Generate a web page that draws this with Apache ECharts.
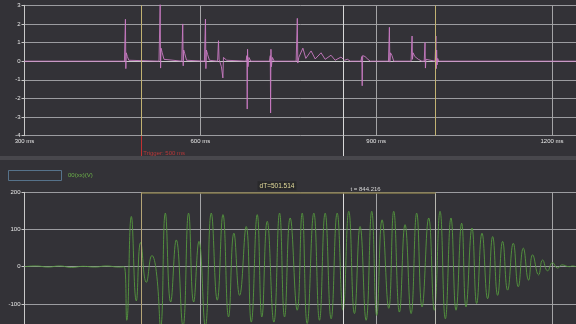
<!DOCTYPE html>
<html><head><meta charset="utf-8">
<script src="https://cdn.jsdelivr.net/npm/echarts@6/dist/echarts.min.js"></script>
<style>html,body{margin:0;padding:0;background:#333237}#c{width:576px;height:324px}</style>
</head><body><div id="c"></div>
<script>
// ---- data ----
const xTicksMs = [300, 600, 900, 1200];
const xRangeMs = [300, 1241];
const topYRange = [-4, 3];
const bottomYRange = [-200, 200];
const cursorMs = [500, 1001.514, 844.216]; // trigger, second cursor, probe
const legendName = ['00(xx)(V)'];

// pink trace (top panel), [ms, value]
const pinkTrace = [
  [300,0],
  [470.5,0],[472.2,2.25],[472.9,-0.4],[473.6,0.45],[475.5,0.25],[478,0.05],[480,0],
  [529.5,0],[531.5,3.1],[532.2,-0.37],[533,0.7],[535,0.45],[538,0.1],[540,0],
  [568.3,0],[570,2.0],[570.8,-0.25],[571.6,0.6],[573.5,0.4],[576.5,0.05],[578,0],
  [607,0],[608.8,2.26],[609.5,-0.4],[610.3,0.6],[612.5,0.35],[615.5,0.05],[618,0],
  [629.5,0],[631,1.1],[632,0.1],[636,-0.3],[638.5,-0.9],[639.5,0.2],[642,0.3],[645,0.05],[648,0],
  [678,0],[679.5,0.3],[680,-2.57],[680.6,0.64],[681.3,-0.3],[683,0.2],[686,0],
  [718,0],[719.4,0.3],[719.9,-2.78],[720.5,0.64],[721.2,-0.3],[723,0.2],[726,0],
  [763.5,0],[765.5,2.3],[766.3,-0.1],[768,0.2],[775,0.7],[780,0.15],[789,0.55],[796,0.12],
  [806,0.45],[813,0.1],[823,0.32],[830,0.05],[840,0.22],[846,0.05],[851,0.1],[856,0],
  [874,0],[875.5,0.25],[876.2,-1.32],[877,0.3],[881,0.25],[886,0.1],[890,0],
  [921,0],[922.6,1.82],[923.3,-0.05],[924.5,0.45],[927,0.3],[930,0],
  [959.6,0],[961.3,1.35],[962,0.1],[963,0.45],[966,0.25],[972,0.1],[978,0],
  [982,0],[983.4,1.0],[984.1,-0.37],[985,0.1],[987,0],
  [1000.5,0],[1002,1.35],[1002.6,-0.4],[1003.2,0.6],[1004,-0.2],[1005,0.15],[1007,0],
  [1241,0]
];

// green trace (bottom panel), [ms, value] at read-off extremes
const greenTrace = [
  [300,0],[320,2],[340,-1],[360,2],[380,-2],[400,1],[420,-1],[440,2],[460,-1],[470,0],
  [474.5,-144],[482.3,135],[490.8,-92],[498.2,65],[507.9,-42],[517.5,30],[524.9,-13],[532.3,-162],
  [540.3,144],[549.4,-95],[559.0,72],[570.4,-160],[580.0,144],[588.6,-95],[597.7,68],[608.5,-160],
  [618.7,144],[628.9,-90],[638.6,140],[648.2,-135],[657.3,90],[667,-77],[678.3,108],[686.9,-149],
  [697.1,140],[705.0,-135],[714.1,122],[725.5,-149],[735.2,144],[743.7,-135],[753.3,131],[765.3,-117],
  [773.8,144],[782.3,-153],[793.7,144],[803.3,-144],[813.0,144],[823.2,-140],[833.5,144],[843.5,-117],
  [853.3,149],[863.0,-126],[872.6,108],[882.9,-144],[892.5,149],[901.0,-131],[910.1,126],[921.5,-112],
  [930.0,149],[939.7,-122],[949.3,113],[959.6,-126],[969.2,144],[978.3,-108],[989.7,131],[999.3,-117],
  [1009.0,149],[1018.1,-140],[1027.7,131],[1036.3,-117],[1045.9,117],[1053.3,-108],[1063.5,104],[1071.5,-99],
  [1080.6,90],[1090.2,-86],[1098.8,81],[1107.3,-77],[1115.8,68],[1124.3,-63],[1134.0,63],[1142.5,-54],
  [1151.1,50],[1160.1,-36],[1167.0,32],[1177.2,-22],[1184.0,18],[1192.5,-11],[1201.0,11],[1209.6,-4],
  [1217.0,5],[1229.4,0],[1235,2],[1241,0]
];

// ---- chart ----
const FONT = 'Liberation Sans';
const chart = echarts.init(document.getElementById('c'), null, {renderer:'canvas'});
const gridLine = {lineStyle:{color:'#9c9ca0', width:1}};
const axisCol = '#c8c8c8';
const vline = (ms, color) => ({xAxis: ms, lineStyle:{color, width:1, type:'solid'}});
const mlBase = {silent:true, symbol:['none','none'], label:{show:false}, animation:false,
  lineStyle:{type:'solid', width:1}};

const option = {
  backgroundColor:'#333237',
  animation:false,
  grid:[
    {left:24.5, right:0, top:5.3, height:130.4, outerBoundsMode:'none', containLabel:false},
    {left:24.5, right:0, top:136, height:20, outerBoundsMode:'none', containLabel:false},
    {left:24.5, right:0, top:192.3, height:148.8, outerBoundsMode:'none', containLabel:false}
  ],
  xAxis:[
    {gridIndex:0, type:'value', min:xRangeMs[0], max:xRangeMs[1], interval:300,
     axisLine:{show:true, lineStyle:{color:axisCol}}, axisTick:{show:false},
     axisLabel:{color:'#e6e6e6', fontSize:6, fontFamily:FONT, margin:3,
       formatter:v => xTicksMs.includes(v) ? v + ' ms' : ''},
     splitLine:{show:true, lineStyle:{color:'#a4a4a6', width:1}}},
    {gridIndex:1, type:'value', min:xRangeMs[0], max:xRangeMs[1], show:false},
    {gridIndex:2, type:'value', min:xRangeMs[0], max:xRangeMs[1], interval:300,
     axisLine:{show:false}, axisTick:{show:false}, axisLabel:{show:false},
     splitLine:{show:true, lineStyle:{color:'#a4a4a6', width:1}}}
  ],
  yAxis:[
    {gridIndex:0, type:'value', min:topYRange[0], max:topYRange[1], interval:1,
     axisLine:{show:true, lineStyle:{color:axisCol}},
     axisTick:{show:true, length:3, lineStyle:{color:axisCol}},
     axisLabel:{color:'#e6e6e6', fontSize:6, fontFamily:FONT, margin:4},
     splitLine:gridLine},
    {gridIndex:1, type:'value', min:0, max:1, show:false},
    {gridIndex:2, type:'value', min:bottomYRange[0], max:bottomYRange[1], interval:100,
     axisLine:{show:true, lineStyle:{color:axisCol}},
     axisTick:{show:true, length:3, lineStyle:{color:axisCol}},
     axisLabel:{color:'#e6e6e6', fontSize:6, fontFamily:FONT, margin:4},
     splitLine:gridLine}
  ],
  series:[
    {type:'line', xAxisIndex:0, yAxisIndex:0, data:pinkTrace, symbol:'none',
     lineStyle:{color:'#c97ac3', width:0.9}, z:3,
     markLine:Object.assign({}, mlBase, {data:[
       vline(cursorMs[0], '#c2b272'), vline(cursorMs[1], '#c2b272'), vline(cursorMs[2], '#d8d8d8')]})},
    {type:'scatter', xAxisIndex:1, yAxisIndex:1, data:[[cursorMs[0], 0.15]], symbolSize:0.01,
     label:{show:true, position:'right', distance:1.5, formatter:'Trigger: ' + cursorMs[0] + ' ms',
       color:'#d83a3a', fontSize:6, fontFamily:FONT},
     markLine:Object.assign({}, mlBase, {data:[
       vline(cursorMs[0], '#c23232'), vline(cursorMs[2], '#d8d8d8')]})},
    {type:'line', xAxisIndex:2, yAxisIndex:2, data:greenTrace, symbol:'none', smooth:0.5,
     lineStyle:{color:'#56993f', width:0.9}, z:3,
     markLine:Object.assign({}, mlBase, {data:[
       vline(cursorMs[0], '#b5a577'), vline(cursorMs[1], '#b8b8b0'), vline(cursorMs[2], '#dcdcdc'),
       [{coord:[cursorMs[0], bottomYRange[1]], lineStyle:{color:'#857a4c', width:1.5, type:'solid'}},
        {coord:[cursorMs[1], bottomYRange[1]]}]
     ]})}
  ],
  graphic:[
    {type:'rect', shape:{x:0, y:156, width:576, height:4}, style:{fill:'#48474c'}, silent:true},
    {type:'rect', shape:{x:8.5, y:170.5, width:53, height:10}, style:{fill:'none', stroke:'#56728a', lineWidth:1}, silent:true},
    {type:'text', x:68, y:175.7, style:{text:legendName[0], fill:'#6db34a', font:'6px ' + FONT, verticalAlign:'middle'}},
    {type:'text', x:277, y:185.8, style:{text:'dT=' + (cursorMs[1]-cursorMs[0]).toFixed(3), fill:'#e4dc9c',
      font:'6.5px ' + FONT, align:'center', verticalAlign:'middle', backgroundColor:'#29292b', padding:[1,2]}},
    {type:'text', x:350.5, y:189.4, style:{text:'t = ' + cursorMs[2].toFixed(3), fill:'#d6d6d6',
      font:'6px ' + FONT, verticalAlign:'middle'}}
  ]
};
chart.setOption(option);
</script>
</body></html>
